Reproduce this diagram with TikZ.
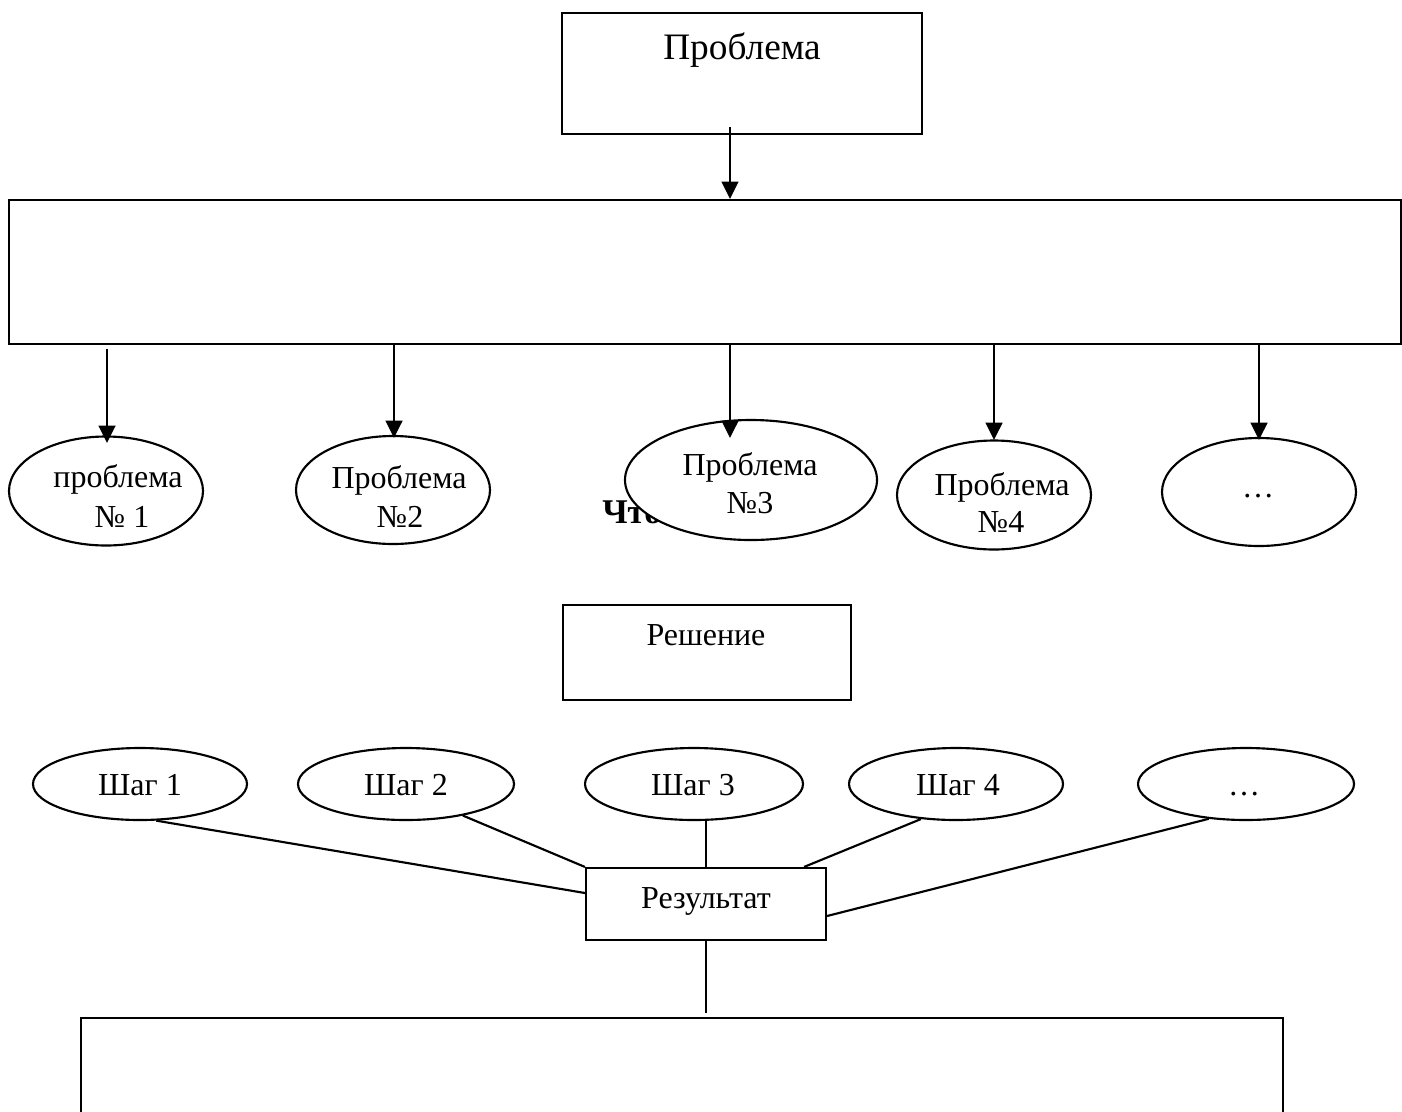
\documentclass[tikz,border=0pt]{standalone}
\usepackage{fontspec}
\setmainfont{Liberation Serif}
\usetikzlibrary{arrows.meta,shapes.geometric,fit,calc}
\begin{document}
\begin{tikzpicture}[x=0.75pt,y=-0.75pt,
  box/.style={draw, rectangle, line width=1.6pt, inner sep=0pt},
  ell/.style={draw, ellipse, line width=1.6pt, inner sep=0pt, fill=white},
  txt/.style={inner sep=0pt, anchor=base, font=\fontsize{24}{28}\selectfont},
  bigtxt/.style={inner sep=0pt, anchor=base, font=\fontsize{28}{32}\selectfont},
  conn/.style={line width=1.6pt},
  arr/.style={line width=1.8pt, -{Triangle[length=13pt,width=12.5pt]}}]
\useasboundingbox (0,0) rectangle (1402,1111);
\clip (0,0) rectangle (1402,1111);
\fill[white] (0,0) rectangle (1402,1111);

% boxes
\node[box, fit={(562,13) (922,134)}] (top) {};
\node[bigtxt] (toptxt) at (742,59) {Проблема};
\node[box, fit={(9,200) (1401,344)}] (big) {};

% partly hidden bold text
\node[inner sep=0pt, anchor=base west, font=\fontsize{26}{30}\selectfont\bfseries] (chto) at (602,523) {Что};

% problem ellipses
\node[ell, minimum width={194*0.75pt}, minimum height={109*0.75pt}] (e1) at (106,491) {};
\node[ell, minimum width={194*0.75pt}, minimum height={108*0.75pt}] (e2) at (393,490) {};
\node[ell, minimum width={252*0.75pt}, minimum height={120*0.75pt}] (e3) at (751,480) {};
\node[ell, minimum width={194*0.75pt}, minimum height={109*0.75pt}] (e4) at (994,495) {};
\node[ell, minimum width={194*0.75pt}, minimum height={108*0.75pt}] (e5) at (1259,492) {};

\node[txt] (e1a) at (118,487) {проблема};
\node[txt] (e1b) at (122,527) {№ 1};
\node[txt] (e2a) at (399,488) {Проблема};
\node[txt] (e2b) at (400,527) {№2};
\node[txt] (e3a) at (750,475) {Проблема};
\node[txt] (e3b) at (750,513) {№3};
\node[txt] (e4a) at (1002,495) {Проблема};
\node[txt] (e4b) at (1001,532) {№4};
\node[txt] (e5a) at (1258,497) {…};

% arrows
\coordinate (a0) at (730,127);
\coordinate (t1) at (107,443);
\coordinate (t2) at (394,438);
\coordinate (t3) at (730,438);
\coordinate (t4) at (994,440);
\coordinate (t5) at (1259,440);
\draw[arr] (a0) -- (a0 |- big.north);
\draw[arr] (big.south -| t1) ++(0,4) -- (t1);
\draw[arr] (big.south -| t2) -- (t2);
\draw[arr] (big.south -| t3) -- (t3);
\draw[arr] (big.south -| t4) -- (t4);
\draw[arr] (big.south -| t5) -- (t5);

% solution
\node[box, fit={(563,605) (851,700)}] (resh) {};
\node[txt] (reshtxt) at (706,645) {Решение};

% steps
\node[ell, minimum width={214*0.75pt}, minimum height={72*0.75pt}] (s1) at (140,784) {};
\node[ell, minimum width={216*0.75pt}, minimum height={72*0.75pt}] (s2) at (406,784) {};
\node[ell, minimum width={218*0.75pt}, minimum height={72*0.75pt}] (s3) at (694,784) {};
\node[ell, minimum width={214*0.75pt}, minimum height={72*0.75pt}] (s4) at (956,784) {};
\node[ell, minimum width={216*0.75pt}, minimum height={72*0.75pt}] (s5) at (1246,784) {};
\node[txt] (s1t) at (140,795) {Шаг 1};
\node[txt] (s2t) at (406,795) {Шаг 2};
\node[txt] (s3t) at (693,795) {Шаг 3};
\node[txt] (s4t) at (958,795) {Шаг 4};
\node[txt] (s5t) at (1244,795) {…};

% result
\node[box, fit={(586,868) (826,940)}] (res) {};
\node[txt] (restxt) at (706,908) {Результат};

\draw[conn] (s1.-66) -- ($(res.west)+(0,-11)$);
\draw[conn] (s2.-29) -- (res.north west);
\draw[conn] (s3.south -| res.north) -- (res.north);
\draw[conn] (s4.-135) -- ($(res.north east)+(-23,0)$);
\draw[conn] (s5.-137) -- ($(res.east)+(0,12)$);

% bottom box (runs past the lower edge)
\node[box, fit={(81,1018) (1283,1140)}] (bot) {};
\coordinate (rb) at (706,1013);
\draw[conn] (res.south) -- (rb);
\end{tikzpicture}
\end{document}
